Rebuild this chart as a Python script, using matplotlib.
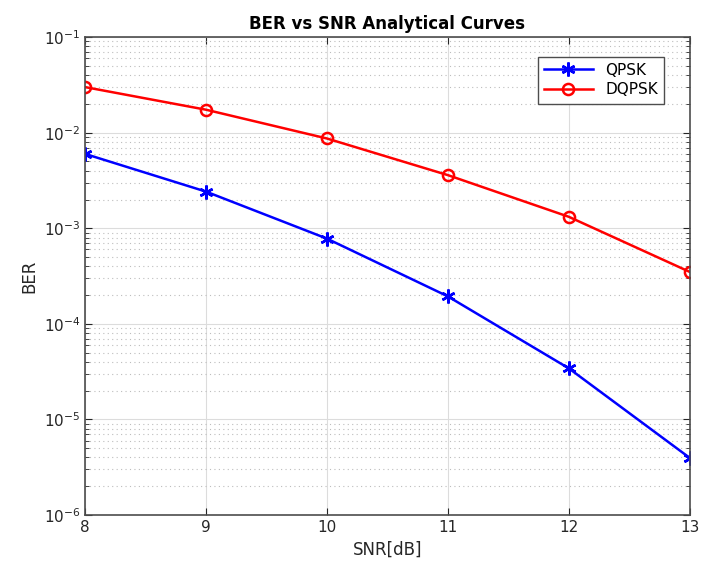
import matplotlib
matplotlib.use('Agg')
import matplotlib.pyplot as plt
import numpy as np

# valeurs
snr_db = [8, 9, 10, 11, 12, 13]
ber_qpsk = [6.0e-3, 2.42e-3, 7.8e-4, 1.94e-4, 3.43e-5, 3.97e-6]
ber_dqpsk = [3.0e-2, 1.74e-2, 8.7e-3, 3.6e-3, 1.32e-3, 3.5e-4]

fig = plt.figure(figsize=(7.03, 5.71), dpi=100)
ax = fig.add_axes([0.121, 0.098, 0.860, 0.837])

ax.semilogy(snr_db, ber_qpsk, color='blue', marker=(6, 2, 0), markersize=10,
            markeredgewidth=1.8, linewidth=1.8, label='QPSK')
ax.semilogy(snr_db, ber_dqpsk, color='red', marker='o', markersize=8,
            markerfacecolor='none', markeredgewidth=1.8, linewidth=1.8,
            label='DQPSK')

ax.set_xlim(8, 13)
ax.set_ylim(1e-6, 1e-1)
ax.set_xticks(snr_db)

ax.grid(True, which='major', color='#dcdcdc', linestyle='-', linewidth=0.8)
ax.grid(True, which='minor', color='#bdbdbd', linestyle=(0, (1, 3)),
        linewidth=0.8)
ax.tick_params(which='both', direction='in', top=True, right=True,
               colors='#262626', labelsize=11)
ax.tick_params(which='major', length=5)
ax.tick_params(which='minor', length=3)
for s in ax.spines.values():
    s.set_color('#4d4d4d')
    s.set_linewidth(1.2)

ax.set_xlabel('SNR[dB]', fontsize=12, color='#262626')
ax.set_ylabel('BER', fontsize=12, color='#262626')
ax.set_title('BER vs SNR Analytical Curves', fontsize=12, fontweight='bold')

leg = ax.legend(loc='upper right', fontsize=11, fancybox=False,
                edgecolor='#4d4d4d', framealpha=1, handlelength=3.2,
                borderpad=0.4, labelspacing=0.3,
                bbox_to_anchor=(0.97, 0.975))
leg.get_frame().set_linewidth(1.0)

fig.savefig('out.png', dpi=100)
